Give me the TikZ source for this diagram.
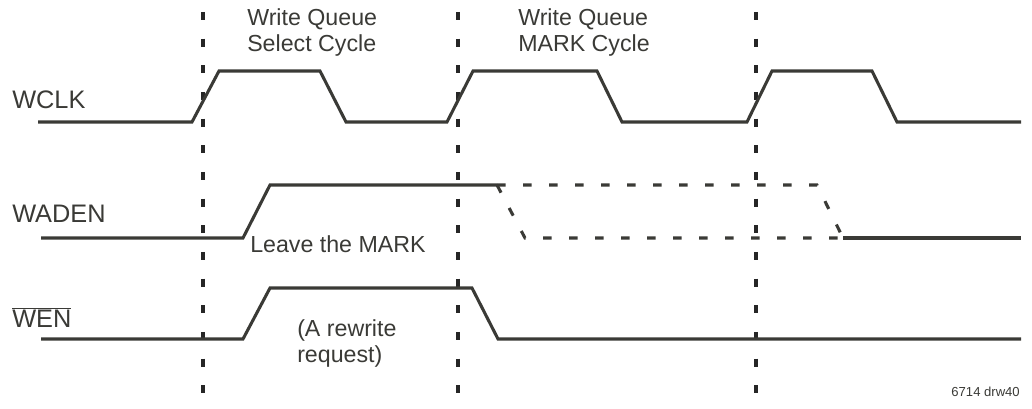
\documentclass[tikz,border=0pt]{standalone}
\usepackage{fontspec}
\setmainfont{Liberation Sans}
\usetikzlibrary{positioning,calc}

\definecolor{ink}{HTML}{3A3A36}

\begin{document}
\begin{tikzpicture}[x=0.75pt, y=-0.75pt,
  every node/.style={inner sep=0pt, text=ink},
  sig/.style={draw=ink, line width=2.3pt, line join=miter},
  sigdash/.style={draw=ink, line width=2.3pt, dash pattern=on 6.5pt off 13pt},
  guide/.style={draw=black!85, line width=2.6pt, dash pattern=on 6pt off 14pt},
  signame/.style={font=\fontsize{19}{22}\selectfont, anchor=base west},
  note/.style={font=\fontsize{17.4}{19.5}\selectfont, anchor=base west, align=left}]

\useasboundingbox (0,0) rectangle (1032,409);

% Signal names
\node[signame] (wclk) at (12,109) {WCLK};
\node[signame] (waden) at (12,223) {WADEN};
\node[signame] (wen) at (12,328) {$\overline{\mbox{WEN}}$};

% Cycle markers
\foreach \gx in {203,458,756}
  \draw[guide] (\gx,12) -- (\gx,395);

% Cycle labels
\node[note] (selcyc) at (247,52) {Write Queue\\Select Cycle};
\node[note] (markcyc) at (518,52) {Write Queue\\MARK Cycle};
\node[note] (leave) at (250,253) {Leave the MARK};
\node[note] (rewrite) at (297,363) {(A rewrite\\request)};

% WCLK waveform
\draw[sig] (38,122) -- (192,122) -- (219,71) -- (320,71) -- (346,122)
  -- (447,122) -- (473,71) -- (597,71) -- (622,122)
  -- (747,122) -- (772,71) -- (872,71) -- (897,122) -- (1021,122);

% WADEN waveform
\draw[sig] (41,238) -- (243,238) -- (270,185) -- (497,185);
\draw[sigdash] (497,185) -- (817,185) -- (843,238);
\draw[sigdash] (497,185) -- (525,238) -- (843,238);
\draw[sig] (843,238) -- (1021,238);

% WEN waveform
\draw[sig] (41,339) -- (243,339) -- (270,288) -- (472,288) -- (498,339) -- (1021,339);

% Drawing number
\node[font=\fontsize{9.8}{12}\selectfont, anchor=base east] (drw) at (1020,397) {6714 drw40};

\end{tikzpicture}
\end{document}
